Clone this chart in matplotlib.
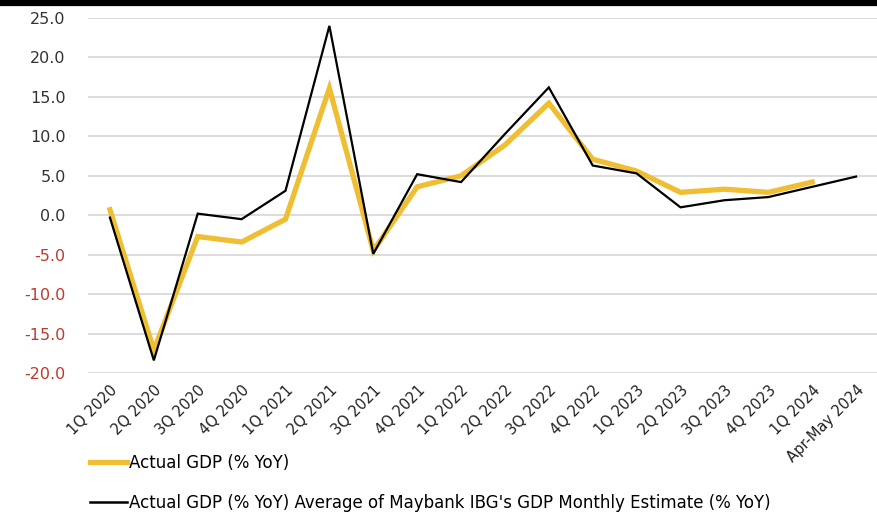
import matplotlib.pyplot as plt
from matplotlib.lines import Line2D

# quarterly real GDP growth, % YoY
quarters = ["1Q 2020", "2Q 2020", "3Q 2020", "4Q 2020", "1Q 2021", "2Q 2021",
            "3Q 2021", "4Q 2021", "1Q 2022", "2Q 2022", "3Q 2022", "4Q 2022",
            "1Q 2023", "2Q 2023", "3Q 2023", "4Q 2023", "1Q 2024", "Apr-May 2024"]
actual_gdp = [0.7, -17.1, -2.7, -3.4, -0.5, 16.1, -4.5, 3.6, 5.0, 8.9, 14.2, 7.1,
              5.6, 2.9, 3.3, 2.9, 4.2, None]
ibg_estimate = [-0.3, -18.4, 0.2, -0.5, 3.1, 24.0, -4.9, 5.2, 4.2, 10.3, 16.2, 6.3,
                5.3, 1.0, 1.9, 2.3, 3.6, 4.9]
yticks = [25, 20, 15, 10, 5, 0, -5, -10, -15, -20]

gold = "#F0BE32"
fig = plt.figure(figsize=(8.78, 5.15), dpi=100)
ax = fig.add_axes([88 / 878, 1 - 373 / 515, 790 / 878, 355 / 515])

x = list(range(len(quarters)))
xa = [i for i, v in zip(x, actual_gdp) if v is not None]
ya = [v for v in actual_gdp if v is not None]
ax.plot(xa, ya, color=gold, lw=3.8, solid_joinstyle="miter", zorder=3)
ax.plot(x, ibg_estimate, color="black", lw=1.6, solid_joinstyle="miter", zorder=4)

ax.set_xlim(-0.5, len(quarters) - 0.5)
ax.set_ylim(-20, 25)
ax.set_yticks(yticks)
ax.set_yticklabels([f"{v:.1f}" for v in yticks], fontsize=11.5)
for lbl, v in zip(ax.get_yticklabels(), yticks):
    lbl.set_color("#C0392B" if v < 0 else "#333333")
ax.grid(axis="y", color="#D9D9D9", lw=1.3)
ax.set_axisbelow(True)
ax.tick_params(axis="y", length=0, pad=16)
ax.tick_params(axis="x", length=0, pad=7)
ax.set_xticks(x)
ax.set_xticklabels(quarters, rotation=45, ha="right", rotation_mode="anchor",
                   fontsize=10.5, color="#222222")
for s in ax.spines.values():
    s.set_visible(False)

# thick rule across the top
fig.add_artist(Line2D([0, 1], [1 - 3 / 515, 1 - 3 / 515], color="black", lw=4.5))

handles = [Line2D([], [], color=gold, lw=3.8),
           Line2D([], [], color="black", lw=1.8)]
labels = ["Actual GDP (% YoY)",
          "Actual GDP (% YoY) Average of Maybank IBG's GDP Monthly Estimate (% YoY)"]
fig.legend(handles, labels, loc="upper left", bbox_to_anchor=(90 / 878, 1 - 454 / 515),
           frameon=False, fontsize=12, handlelength=2.2, handletextpad=0.15,
           labelspacing=1.3, borderaxespad=0, borderpad=0)

fig.savefig("out.png", dpi=100)
